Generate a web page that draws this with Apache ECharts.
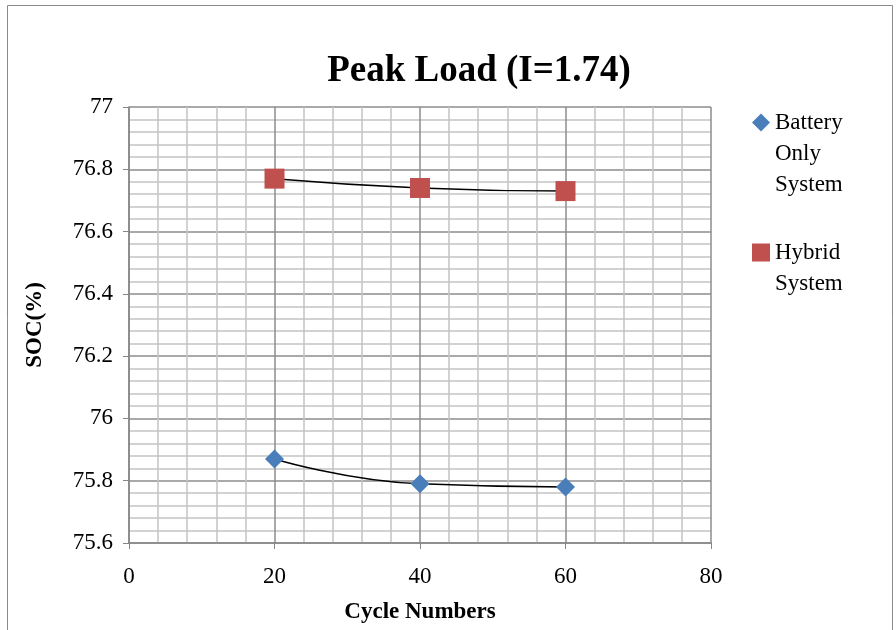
<!DOCTYPE html>
<html><head><meta charset="utf-8">
<script src="https://cdn.jsdelivr.net/npm/echarts@6/dist/echarts.min.js"></script>
<style>html,body{margin:0;padding:0;background:#fff}#c{width:896px;height:630px}</style>
</head><body><div id="c"></div>
<script>
const cycles = [20, 40, 60];
const batteryOnly = [75.87, 75.79, 75.78];
const hybrid = [76.77, 76.74, 76.73];
const seriesNames = ['Battery Only System', 'Hybrid System'];
const legendLines = {
  'Battery Only System': '\n\nBattery\nOnly\nSystem',
  'Hybrid System': '\nHybrid\nSystem'
};

const chart = echarts.init(document.getElementById('c'));
const font = 'Liberation Serif';
const pair = (xs, ys) => xs.map((x, i) => [x, ys[i]]);
chart.setOption({
  animation: false,
  backgroundColor: '#fff',
  graphic: [{type: 'rect', shape: {x: 7.5, y: 5.5, width: 885, height: 640}, style: {fill: 'none', stroke: '#8a8a8a', lineWidth: 1}}],
  title: {text: 'Peak Load (I=1.74)', left: 474, top: 48, textAlign: 'center',
    textStyle: {fontFamily: font, fontWeight: 'bold', fontSize: 37, color: '#000'}},
  grid: {left: 129, right: 185, top: 107, bottom: 87, outerBoundsMode: 'none', containLabel: false},
  legend: {orient: 'vertical', left: 747, top: 40, itemGap: 6, itemWidth: 18, itemHeight: 18,
    data: [{name: seriesNames[0], icon: 'diamond'}, {name: seriesNames[1], icon: 'rect'}],
    formatter: n => legendLines[n],
    textStyle: {fontFamily: font, fontSize: 23, color: '#000', lineHeight: 31}},
  xAxis: {type: 'value', min: 0, max: 80, interval: 20,
    name: 'Cycle Numbers', nameLocation: 'middle', nameGap: 58,
    nameTextStyle: {fontFamily: font, fontWeight: 'bold', fontSize: 23, color: '#000'},
    axisLine: {show: true, lineStyle: {color: '#868686', width: 1.5}},
    axisTick: {show: true, length: 6, lineStyle: {color: '#868686'}},
    axisLabel: {fontFamily: font, fontSize: 23, color: '#000', margin: 22},
    splitLine: {show: true, lineStyle: {color: '#8c8c8c', width: 1.5}},
    minorTick: {show: false, splitNumber: 5},
    minorSplitLine: {show: true, lineStyle: {color: '#c4c4c4', width: 1.5}}},
  yAxis: {type: 'value', min: 75.6, max: 77, interval: 0.2,
    name: 'SOC(%)', nameLocation: 'middle', nameGap: 82,
    nameTextStyle: {fontFamily: font, fontWeight: 'bold', fontSize: 23, color: '#000'},
    axisLine: {show: true, lineStyle: {color: '#868686', width: 1.5}},
    axisTick: {show: true, length: 6, lineStyle: {color: '#868686'}},
    axisLabel: {fontFamily: font, fontSize: 23, color: '#000', margin: 16,
      formatter: v => String(Math.round(v * 10) / 10)},
    splitLine: {show: true, lineStyle: {color: '#8c8c8c', width: 1.5}},
    minorTick: {show: false, splitNumber: 5},
    minorSplitLine: {show: true, lineStyle: {color: '#c4c4c4', width: 1.5}}},
  series: [
    {name: seriesNames[0], type: 'line', smooth: 0.5, data: pair(cycles, batteryOnly),
     symbol: 'diamond', symbolSize: 19, itemStyle: {color: '#4a7ebb'},
     lineStyle: {color: '#000', width: 1.5}},
    {name: seriesNames[1], type: 'line', smooth: 0.5, data: pair(cycles, hybrid),
     symbol: 'rect', symbolSize: 20, itemStyle: {color: '#c0504d'},
     lineStyle: {color: '#000', width: 1.5}}
  ]
});
</script></body></html>
